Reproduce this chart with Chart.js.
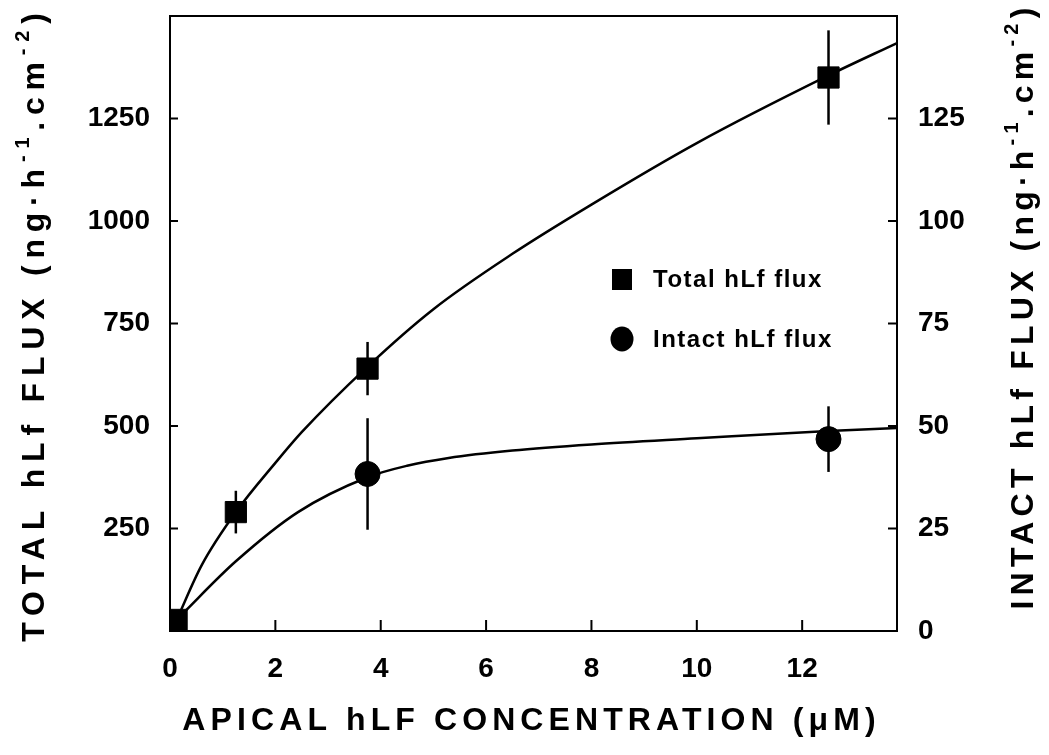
<!DOCTYPE html>
<html>
<head>
<meta charset="utf-8">
<script src="https://cdn.jsdelivr.net/npm/chart.js@4.4.1/dist/chart.umd.min.js"></script>
<style>
  html, body { margin: 0; padding: 0; background: #fff; }
</style>
</head>
<body>
<canvas id="fluxChart" width="1049" height="755"></canvas>
<script>
// measured points (concentration in uM)
const totalConc = [0.125, 1.25, 3.75, 12.5];
const totalFlux = [27, 290, 640, 1350];
const totalSd = [0, 52, 65, 115];

// the intact point at the origin sits under the total square, so only these show
const intactConc = [3.75, 12.5];
const intactFlux = [38.3, 46.8];
const intactSd = [13.6, 8];

// fitted curves
const totalFitConc = [0.125, 0.6, 1.25, 2, 2.5, 3.75, 5, 6.5, 8, 10, 12.5, 13.8];
const totalFitFlux = [27, 160, 290, 410, 485, 645, 785, 920, 1040, 1190, 1355, 1434];
const intactFitConc = [0.125, 0.3, 1.25, 2.43, 3.75, 4.5, 5.29, 6.5, 8, 10, 12.5, 13.8];
const intactFitFlux = [2.7, 5, 17, 29, 37.5, 40.3, 42.2, 44, 45.5, 47, 48.8, 49.5];

const xTicks = [0, 2, 4, 6, 8, 10, 12];
const leftTicks = [250, 500, 750, 1000, 1250];
const rightTicks = [0, 25, 50, 75, 100, 125];

const FONT = "'Liberation Sans', Arial, Helvetica, sans-serif";
const tickFont = { family: FONT, size: 28, weight: "bold" };

const toXY = (xs, ys) => xs.map((x, i) => ({ x: x, y: ys[i] }));

// titles with superscripts, drawn rotated where needed
function drawRichText(ctx, parts, x, y, angle, size, spacing) {
  ctx.save();
  ctx.translate(x, y);
  ctx.rotate(angle);
  ctx.fillStyle = "#000";
  ctx.textBaseline = "alphabetic";
  ctx.letterSpacing = spacing + "px";
  let total = 0;
  parts.forEach((p) => {
    ctx.font = "bold " + (p.sup ? Math.round(size * 0.62) : size) + "px " + FONT;
    p.w = ctx.measureText(p.t).width;
    total += p.w;
  });
  let cx = -total / 2;
  const base = size * 0.36;
  parts.forEach((p) => {
    ctx.font = "bold " + (p.sup ? Math.round(size * 0.62) : size) + "px " + FONT;
    ctx.fillText(p.t, cx, p.sup ? base - size * 0.45 : base);
    cx += p.w;
  });
  ctx.restore();
}

const unitParts = [
  { t: "(ng·h" }, { t: "-1", sup: true }, { t: ".cm" }, { t: "-2", sup: true }, { t: ")" },
];

const errorBars = {
  id: "errorBars",
  beforeDatasetsDraw(chart) {
    const ctx = chart.ctx;
    const x = chart.scales.x;
    const sets = [
      { xs: totalConc, ys: totalFlux, sd: totalSd, scale: chart.scales.y },
      { xs: intactConc, ys: intactFlux, sd: intactSd, scale: chart.scales.y1 },
    ];
    ctx.save();
    ctx.strokeStyle = "#000";
    ctx.lineWidth = 2.5;
    sets.forEach((s) => {
      s.xs.forEach((c, i) => {
        if (!s.sd[i]) return;
        const px = x.getPixelForValue(c);
        ctx.beginPath();
        ctx.moveTo(px, s.scale.getPixelForValue(s.ys[i] - s.sd[i]));
        ctx.lineTo(px, s.scale.getPixelForValue(s.ys[i] + s.sd[i]));
        ctx.stroke();
      });
    });
    ctx.restore();
  },
};

const frame = {
  id: "frame",
  afterDraw(chart) {
    const ctx = chart.ctx;
    const a = chart.chartArea;
    const { x, y, y1 } = chart.scales;
    ctx.save();
    ctx.strokeStyle = "#000";
    ctx.lineWidth = 2;
    ctx.strokeRect(a.left, a.top, a.right - a.left, a.bottom - a.top);

    // inward tick marks
    ctx.beginPath();
    xTicks.forEach((v) => {
      const px = x.getPixelForValue(v);
      ctx.moveTo(px, a.bottom);
      ctx.lineTo(px, a.bottom - 11);
    });
    leftTicks.forEach((v) => {
      const py = y.getPixelForValue(v);
      ctx.moveTo(a.left, py);
      ctx.lineTo(a.left + 8, py);
    });
    rightTicks.forEach((v) => {
      const py = y1.getPixelForValue(v);
      ctx.moveTo(a.right, py);
      ctx.lineTo(a.right - 9, py);
    });
    ctx.stroke();

    // axis titles
    drawRichText(ctx, [{ t: "TOTAL hLf FLUX " }].concat(unitParts), 32, 324, -Math.PI / 2, 32, 6.8);
    drawRichText(ctx, [{ t: "INTACT hLf FLUX " }].concat(unitParts), 1021, 306, -Math.PI / 2, 32, 5.2);
    drawRichText(ctx, [{ t: "APICAL hLF CONCENTRATION (μM)" }], (a.left + a.right) / 2 - 2, 718, 0, 32, 5.1);

    // legend
    const lx = a.left + 452;
    ctx.fillStyle = "#000";
    ctx.fillRect(lx - 10, a.top + 253, 20, 21);
    ctx.beginPath();
    ctx.ellipse(lx, a.top + 323, 11.5, 12.5, 0, 0, Math.PI * 2);
    ctx.fill();
    ctx.font = "bold 24px " + FONT;
    ctx.letterSpacing = "1.5px";
    ctx.textBaseline = "middle";
    ctx.fillText("Total hLf flux", lx + 31, a.top + 264);
    ctx.fillText("Intact hLf flux", lx + 31, a.top + 324);
    ctx.restore();
  },
};

const fixPadV = (s) => { s.paddingTop = 0; s.paddingBottom = 0; };

const ctx = document.getElementById("fluxChart").getContext("2d");
const fluxChart = new Chart(ctx, {
  type: "scatter",
  data: {
    datasets: [
      {
        label: "Total hLf flux",
        data: toXY(totalConc, totalFlux),
        yAxisID: "y",
        pointStyle: "rect",
        pointRadius: 15,
        backgroundColor: "#000",
        borderColor: "#000",
      },
      {
        label: "Intact hLf flux",
        data: toXY(intactConc, intactFlux),
        yAxisID: "y1",
        pointStyle: "circle",
        pointRadius: 12.5,
        backgroundColor: "#000",
        borderColor: "#000",
      },
      {
        label: "Total fit",
        data: toXY(totalFitConc, totalFitFlux),
        yAxisID: "y",
        showLine: true,
        pointRadius: 0,
        borderColor: "#000",
        borderWidth: 2.5,
        cubicInterpolationMode: "monotone",
      },
      {
        label: "Intact fit",
        data: toXY(intactFitConc, intactFitFlux),
        yAxisID: "y1",
        showLine: true,
        pointRadius: 0,
        borderColor: "#000",
        borderWidth: 2.5,
        cubicInterpolationMode: "monotone",
      },
    ],
  },
  options: {
    responsive: false,
    animation: false,
    layout: { padding: { top: 9, left: 0, right: 0, bottom: 0 } },
    plugins: { legend: { display: false }, tooltip: { enabled: false } },
    scales: {
      x: {
        type: "linear",
        min: 0,
        max: 13.8,
        afterBuildTicks: (s) => { s.ticks = xTicks.map((v) => ({ value: v })); },
        afterFit: (s) => { s.height = 124; s.paddingLeft = 0; s.paddingRight = 0; },
        grid: { display: false, drawTicks: false },
        border: { display: false },
        ticks: { color: "#000", font: tickFont, padding: 21, maxRotation: 0, callback: (v) => String(v) },
      },
      y: {
        position: "left",
        min: 0,
        max: 1500,
        afterBuildTicks: (s) => { s.ticks = leftTicks.map((v) => ({ value: v })); },
        afterFit: (s) => { s.width = 170; fixPadV(s); },
        grid: { display: false, drawTicks: false },
        border: { display: false },
        ticks: { color: "#000", font: tickFont, padding: 20, callback: (v) => String(v) },
      },
      y1: {
        position: "right",
        min: 0,
        max: 150,
        afterBuildTicks: (s) => { s.ticks = rightTicks.map((v) => ({ value: v })); },
        afterFit: (s) => { s.width = 152; fixPadV(s); },
        grid: { display: false, drawTicks: false },
        border: { display: false },
        ticks: { color: "#000", font: tickFont, padding: 21, callback: (v) => String(v) },
      },
    },
  },
  plugins: [errorBars, frame],
});
</script>
</body>
</html>
